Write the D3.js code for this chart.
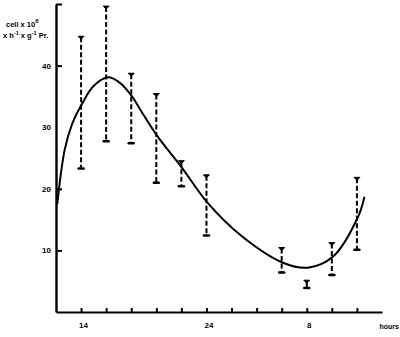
<!DOCTYPE html>
<html><head><meta charset="utf-8">
<script src="https://cdn.jsdelivr.net/npm/d3@7"></script>
<style>body{margin:0;background:#fff}svg{display:block}text{font-family:"Liberation Sans",Arial,sans-serif;font-weight:bold;fill:#000}</style>
</head><body>
<svg id="c" width="400" height="337"></svg>
<script>
// ---- data ----
const hours = [14, 16, 18, 20, 22, 24, 30, 32, 34, 36];
const upper = [44.6, 49.5, 38.6, 35.3, 24.4, 22.1, 10.3, 5.0, 11.1, 21.7];
const lower = [23.3, 27.7, 27.4, 21.0, 20.4, 12.4, 6.4, 3.9, 6.0, 10.1];
const curveHours  = [12.1, 12.7, 13.3, 14.1, 15.0, 16.15, 17.1, 18.1, 18.8, 20.1, 22.05, 24.1, 26.7, 30.1, 32.1, 34.1, 36.1, 36.6];
const curveValues = [17.5, 26.4, 30.6, 33.9, 36.7, 38.1, 37.2, 34.9, 32.6, 28.5, 23.4, 17.7, 12.5, 8.0, 7.2, 9.0, 15.5, 18.7];
const xTickHours = [14, 16, 18, 20, 22, 24, 26, 28, 30, 32, 34, 36];
const xLabelHours = [14, 24, 32];
const xLabelTexts = ["14", "24", "8"];
const yTickValues = [10, 20, 30, 40, 50];
const yTickTexts = ["10", "20", "30", "40", ""];

// ---- chart ----
const svg = d3.select("#c");
const x = d3.scaleLinear().domain([12, 38]).range([56, 382]);
const y = d3.scaleLinear().domain([0, 50]).range([312, 4]);

// x axis
const xAxis = d3.axisBottom(x).tickValues(xTickHours).tickSize(-4).tickSizeOuter(0).tickPadding(10)
  .tickFormat(d => { const i = xLabelHours.indexOf(d); return i >= 0 ? xLabelTexts[i] : ""; });
const gx = svg.append("g").attr("transform", `translate(0,${y(0)})`).call(xAxis);
gx.select(".domain").attr("stroke", "#000").attr("stroke-width", 2.2);
gx.selectAll(".tick line").attr("stroke", "#000").attr("stroke-width", 2);
gx.selectAll(".tick text").attr("font-size", 8).attr("font-family", "Liberation Sans, Arial, sans-serif").attr("font-weight", "bold").attr("dx", 2);

// y axis
const yAxis = d3.axisLeft(y).tickValues(yTickValues).tickSize(-6).tickSizeOuter(0).tickPadding(5)
  .tickFormat((d, i) => yTickTexts[i]);
const gy = svg.append("g").attr("transform", `translate(${x(12)},0)`).call(yAxis);
gy.select(".domain").attr("stroke", "#000").attr("stroke-width", 2.4);
gy.selectAll(".tick line").attr("stroke", "#000").attr("stroke-width", 2)
  .attr("display", d => d === 30 ? "none" : null);
gy.selectAll(".tick text").attr("font-size", 8).attr("font-family", "Liberation Sans, Arial, sans-serif").attr("font-weight", "bold");

// axis titles
const t1 = svg.append("text").attr("x", 6).attr("y", 27).attr("font-size", 7.5);
t1.append("tspan").text("cell x 10");
t1.append("tspan").attr("dy", -4).attr("font-size", 6).text("6");
const t2 = svg.append("text").attr("x", 3).attr("y", 38).attr("font-size", 7.5);
t2.append("tspan").text("x h");
t2.append("tspan").attr("dy", -3).attr("font-size", 5.5).text("-1");
t2.append("tspan").attr("dy", 3).text(" x g");
t2.append("tspan").attr("dy", -3).attr("font-size", 5.5).text("-1");
t2.append("tspan").attr("dy", 3).text(" Pr.");
svg.append("text").attr("x", 399).attr("y", 329).attr("text-anchor", "end").attr("font-size", 7).text("hours");

// error bars
const bars = hours.map((h, i) => ({h, hi: upper[i], lo: lower[i]}));
const gb = svg.append("g");
gb.selectAll("line.bar").data(bars).join("line").attr("class", "bar")
  .attr("x1", d => x(d.h)).attr("x2", d => x(d.h))
  .attr("y1", d => y(d.hi)).attr("y2", d => y(d.lo))
  .attr("stroke", "#000").attr("stroke-width", 2)
  .attr("stroke-dasharray", d => (d.hi - d.lo) < 2 ? null : "5,2.5");
gb.selectAll("path.capT").data(bars).join("path").attr("class", "capT")
  .attr("d", d => `M${x(d.h) - 3},${y(d.hi) - 1}L${x(d.h) + 3},${y(d.hi) - 1}L${x(d.h)},${y(d.hi) + 2}Z`)
  .attr("fill", "#000").attr("stroke", "#000").attr("stroke-width", 1);
gb.selectAll("line.capB").data(bars).join("line").attr("class", "capB")
  .attr("x1", d => x(d.h) - 2.5).attr("x2", d => x(d.h) + 2.5)
  .attr("y1", d => y(d.lo)).attr("y2", d => y(d.lo))
  .attr("stroke", "#000").attr("stroke-width", 2.5).attr("stroke-linecap", "round");

// fitted curve
const pts = curveHours.map((h, i) => [h, curveValues[i]]);
svg.append("path").datum(pts)
  .attr("d", d3.line().x(d => x(d[0])).y(d => y(d[1])).curve(d3.curveCatmullRom.alpha(0.5)))
  .attr("fill", "none").attr("stroke", "#000").attr("stroke-width", 2);
</script>
</body></html>
